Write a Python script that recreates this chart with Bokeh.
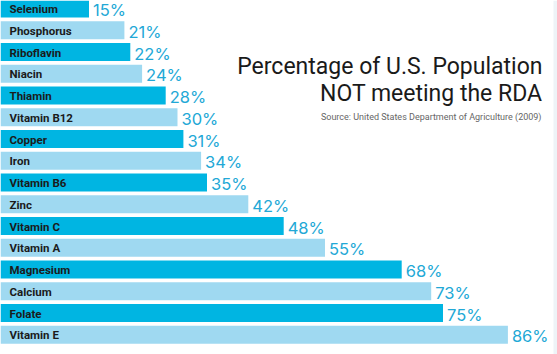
from bokeh.plotting import figure
from bokeh.models import ColumnDataSource, Range1d, Label, BoxAnnotation
from bokeh.core.properties import value
from bokeh.embed import file_html
from bokeh.resources import INLINE

nutrients = ["Selenium", "Phosphorus", "Riboflavin", "Niacin", "Thiamin", "Vitamin B12",
             "Copper", "Iron", "Vitamin B6", "Zinc", "Vitamin C", "Vitamin A",
             "Magnesium", "Calcium", "Folate", "Vitamin E"]
percent = [15, 21, 22, 24, 28, 30, 31, 34, 35, 42, 48, 55, 68, 73, 75, 86]

DARK = "#00b5e2"
LIGHT = "#9fd9f1"
TXT = "#22a8d6"

idx = list(range(len(nutrients)))
colors = [DARK if i % 2 == 0 else LIGHT for i in idx]
src = ColumnDataSource(dict(y=idx, v=percent, name=nutrients,
                            lab=[f"{v}%" for v in percent], color=colors,
                            zero=[0] * len(idx)))

W, H = 557, 354
pitch = 21.75
top = 8.0
p = figure(width=W, height=H, output_backend="svg", toolbar_location=None,
           x_range=Range1d(0, W / 5.9),
           y_range=Range1d((H - top) / pitch, -top / pitch),
           min_border=0, outline_line_color=None)
p.axis.visible = False
p.grid.visible = False
p.background_fill_color = "white"

p.add_layout(BoxAnnotation(left=553, right=557, left_units="screen", right_units="screen",
                           fill_color="#eef3f7", fill_alpha=1.0, line_color=None))

p.hbar(y="y", left=0, right="v", height=18 / pitch, fill_color="color",
       line_color=None, source=src)

p.text(x="zero", y="y", text="name", source=src, x_offset=9, y_offset=0.5,
       text_baseline="middle", text_align="left",
       text_font=value("Roboto"), text_font_style="bold",
       text_font_size="11.5px", text_color="#1b1b1b")

p.text(x="v", y="y", text="lab", source=src, x_offset=4, y_offset=1.5,
       text_baseline="middle", text_align="left",
       text_font=value("Inter"), text_font_size="16.5px", text_color=TXT)

p.add_layout(Label(x=542, y=H - 66, x_units="screen", y_units="screen",
                   text="Percentage of U.S. Population", text_align="right",
                   text_baseline="alphabetic", text_font="Roboto",
                   text_font_size="23px", text_color="#1a1a1a"))
p.add_layout(Label(x=542, y=H - 93, x_units="screen", y_units="screen",
                   text="NOT meeting the RDA", text_align="right",
                   text_baseline="alphabetic", text_font="Roboto",
                   text_font_size="23px", text_color="#1a1a1a"))
p.add_layout(Label(x=541, y=H - 116, x_units="screen", y_units="screen",
                   text="Source: United States Department of Agriculture (2009)",
                   text_align="right", text_baseline="alphabetic",
                   text_font="Roboto", text_font_size="9px", text_color="#666666"))

open("out.html", "w").write(file_html(p, INLINE))
